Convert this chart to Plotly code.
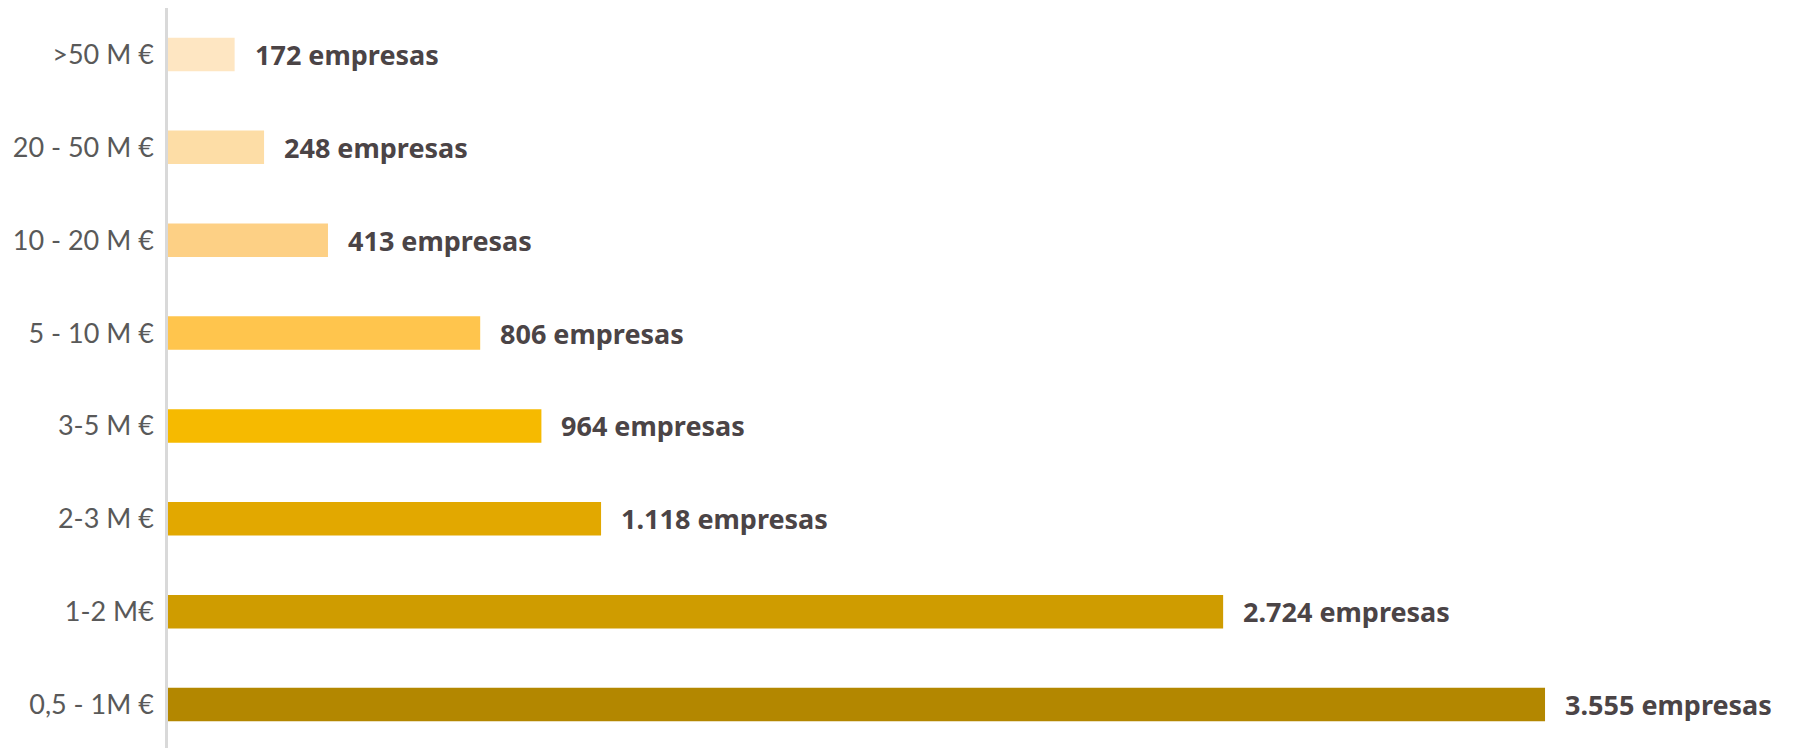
import plotly.graph_objects as go

categories = ["0,5 - 1M €", "1-2 M€", "2-3 M €", "3-5 M €", "5 - 10 M €",
              "10 - 20 M €", "20 - 50 M €", ">50 M €"]
values = [3555, 2724, 1118, 964, 806, 413, 248, 172]
value_labels = ["3.555 empresas", "2.724 empresas", "1.118 empresas", "964 empresas",
                "806 empresas", "413 empresas", "248 empresas", "172 empresas"]
colors = ["#B38700", "#CF9C00", "#E2A800", "#F6BA00", "#FFC54D",
          "#FDD085", "#FDDDA6", "#FEE6C2"]

fig = go.Figure()
fig.add_trace(go.Bar(
    x=values, y=categories, orientation="h",
    marker=dict(color=colors, line=dict(width=0)),
    width=0.36, hoverinfo="skip",
))

annotations = []
for cat, val, lab in zip(categories, values, value_labels):
    annotations.append(dict(
        x=val, y=cat, xref="x", yref="y", text=lab, showarrow=False,
        xanchor="left", yanchor="middle", xshift=18,
        font=dict(family="Noto Sans", size=27, color="#4B4446", weight="bold"),
    ))

fig.update_layout(
    width=1795, height=748,
    margin=dict(l=160, r=0, t=0, b=5),
    paper_bgcolor="white", plot_bgcolor="white",
    showlegend=False,
    annotations=annotations,
    xaxis=dict(range=[0, 4221], visible=False, showgrid=False, zeroline=False),
    yaxis=dict(
        categoryorder="array", categoryarray=categories,
        showline=True, linecolor="#D9D9D9", linewidth=2.5,
        showgrid=False, zeroline=False, ticks="",
        ticklabelstandoff=6,
        tickfont=dict(family="Lato", size=27, color="#595959"),
    ),
)

fig.write_html("out.html")
